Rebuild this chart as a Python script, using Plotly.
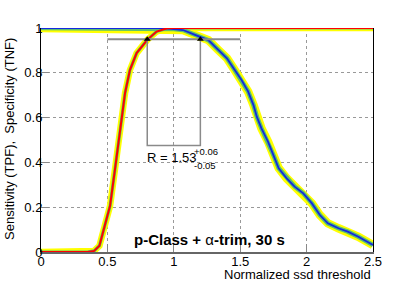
import plotly.graph_objects as go

# Sensitivity (TPF) curve
tpf_x = [0, 0.35, 0.40, 0.44, 0.48, 0.52, 0.557, 0.595, 0.633, 0.67, 0.72, 0.80, 0.87, 0.95, 1.0, 2.5]
tpf_y = [0, 0, 0.005, 0.028, 0.117, 0.206, 0.369, 0.547, 0.71, 0.813, 0.888, 0.947, 0.984, 0.999, 1.0, 1.0]

# Specificity (TNF) curve
tnf_x = [0, 0.85, 0.9, 1.0, 1.07, 1.16, 1.26, 1.335, 1.40, 1.45, 1.51, 1.56, 1.60, 1.625, 1.66, 1.71,
         1.75, 1.79, 1.85, 1.91, 1.975, 2.04, 2.10, 2.16, 2.24, 2.31, 2.39, 2.5]
tnf_y = [1, 1, 0.999, 0.995, 0.991, 0.969, 0.946, 0.902, 0.865, 0.82, 0.768, 0.716, 0.656, 0.604, 0.552, 0.492,
         0.433, 0.374, 0.329, 0.292, 0.262, 0.217, 0.165, 0.128, 0.106, 0.091, 0.068, 0.031]

# Ratio box: thresholds at working level
level_y = 0.95
level_x_range = [0.5, 1.5]
box_x = [0.8, 1.2]
box_bottom = 0.475

x_ticks = [0, 0.5, 1, 1.5, 2, 2.5]
x_ticktext = ["0", "0.5", "1", "1.5", "2", "2.5"]
y_ticks = [0, 0.2, 0.4, 0.6, 0.8, 1]
y_ticktext = ["0", "0.2", "0.4", "0.6", "0.8", "1"]

YELLOW = "#ffff00"
GREEN = "#5cc070"
RED = "#ff0000"
BLUE = "#1428e0"

fig = go.Figure()

# bands (drawn as wide lines)
fig.add_trace(go.Scatter(x=tnf_x, y=tnf_y, mode="lines", line=dict(color=YELLOW, width=8.5), hoverinfo="skip"))
fig.add_trace(go.Scatter(x=tpf_x, y=tpf_y, mode="lines", line=dict(color=YELLOW, width=6.5), hoverinfo="skip"))
fig.add_trace(go.Scatter(x=tnf_x, y=tnf_y, mode="lines", line=dict(color=GREEN, width=4.5), hoverinfo="skip"))
fig.add_trace(go.Scatter(x=tpf_x, y=tpf_y, mode="lines", line=dict(color=GREEN, width=3.2), hoverinfo="skip"))
fig.add_trace(go.Scatter(x=tnf_x, y=tnf_y, mode="lines", line=dict(color=BLUE, width=1.8)))
fig.add_trace(go.Scatter(x=tpf_x, y=tpf_y, mode="lines", line=dict(color=RED, width=2)))

# ratio box lines
fig.add_trace(go.Scatter(x=level_x_range, y=[level_y, level_y], mode="lines",
                         line=dict(color="#8a8a8a", width=2)))
fig.add_trace(go.Scatter(x=[box_x[0], box_x[0], box_x[1], box_x[1]],
                         y=[level_y, box_bottom, box_bottom, level_y], mode="lines",
                         line=dict(color="#8a8a8a", width=1.5)))
fig.add_trace(go.Scatter(x=box_x, y=[level_y, level_y], mode="markers",
                         marker=dict(symbol="triangle-up", size=6, color="black")))

font_family = "Liberation Sans, Arial, sans-serif"

fig.update_layout(
    width=415, height=281,
    margin=dict(l=41, r=42, t=28, b=29),
    paper_bgcolor="white", plot_bgcolor="white",
    showlegend=False,
    font=dict(family=font_family, size=13, color="black"),
    xaxis=dict(range=[0, 2.5], tickvals=x_ticks, ticktext=x_ticktext,
               showgrid=True, gridcolor="#999999", griddash="dot", gridwidth=1,
               showline=True, linecolor="#666666", linewidth=2, mirror=False,
               ticks="inside", ticklen=8, tickcolor="#888888", ticklabelstandoff=-4,
               zeroline=False, tickfont=dict(size=13)),
    yaxis=dict(range=[0, 1], tickvals=y_ticks, ticktext=y_ticktext,
               showgrid=True, gridcolor="#999999", griddash="dot", gridwidth=1,
               showline=True, linecolor="black", linewidth=1, mirror=True,
               ticks="inside", ticklen=8, tickcolor="#888888", ticklabelstandoff=-5,
               zeroline=False, tickfont=dict(size=13)),
)

fig.add_annotation(x=0.783, y=0.42, xref="x", yref="y", text="R = 1.53", showarrow=False,
                   xanchor="left", yanchor="middle", font=dict(size=13))
fig.add_annotation(x=1.137, y=0.448, xref="x", yref="y", text="+0.06", showarrow=False,
                   xanchor="left", yanchor="middle", font=dict(size=9.5))
fig.add_annotation(x=1.137, y=0.386, xref="x", yref="y", text="-0.05", showarrow=False,
                   xanchor="left", yanchor="middle", font=dict(size=9.5))
fig.add_annotation(x=1.27, y=0.054, xref="x", yref="y", text="<b>p-Class + </b>α<b>-trim, 30 s</b>",
                   showarrow=False, xanchor="center", yanchor="middle", font=dict(size=15))
fig.add_annotation(x=1, y=0, xref="paper", yref="paper", text="Normalized ssd threshold",
                   showarrow=False, xanchor="right", yanchor="bottom", yshift=-32, font=dict(size=13))
fig.add_annotation(x=0, y=0.505, xref="paper", yref="paper",
                   text="Sensitivity (TPF),\u00a0 Specificity (TNF)", textangle=-90,
                   showarrow=False, xanchor="center", yanchor="middle", xshift=-31, font=dict(size=13))

fig.write_html("out.html", config={"displayModeBar": False},
               post_script="document.body.style.margin='0';document.body.style.overflow='hidden';")
